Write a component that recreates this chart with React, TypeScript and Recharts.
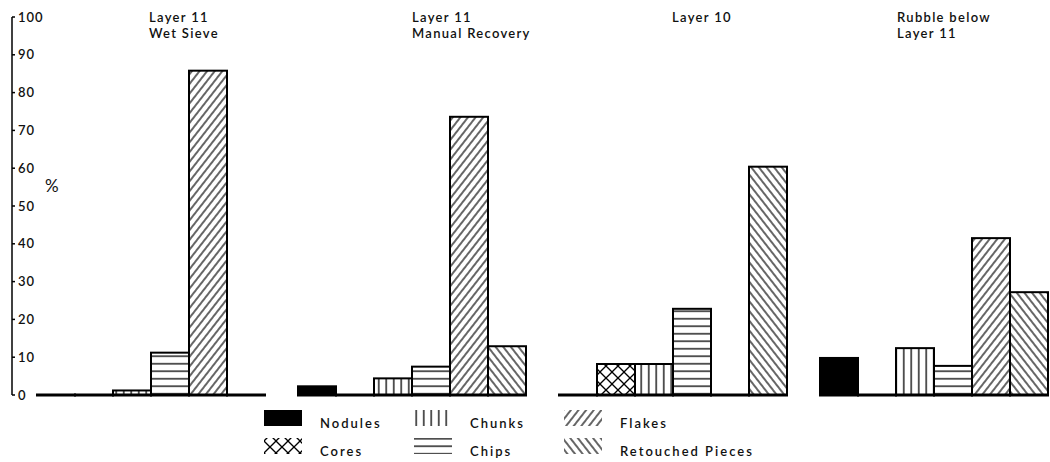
import React from "react";
import { Bar, BarChart, Legend, XAxis, YAxis } from "recharts";

const categories = [
  "Layer 11\nWet Sieve",
  "Layer 11\nManual Recovery",
  "Layer 10",
  "Rubble below\nLayer 11",
];

const nodules = [0, 2.3, 0, 9.8];
const cores = [0, 0, 8.2, 0];
const chunks = [1.2, 4.4, 8.2, 12.4];
const chips = [11.2, 7.5, 22.8, 7.7];
const flakes = [85.8, 73.6, 0, 41.5];
const retouched = [0, 12.9, 60.4, 27.2];

const yTicks = [0, 10, 20, 30, 40, 50, 60, 70, 80, 90, 100];

const series = [
  { key: "nodules", name: "Nodules", values: nodules, fill: "#000" },
  { key: "cores", name: "Cores", values: cores, fill: "url(#pat-cores)" },
  { key: "chunks", name: "Chunks", values: chunks, fill: "url(#pat-chunks)" },
  { key: "chips", name: "Chips", values: chips, fill: "url(#pat-chips)" },
  { key: "flakes", name: "Flakes", values: flakes, fill: "url(#pat-flakes)" },
  { key: "retouched", name: "Retouched Pieces", values: retouched, fill: "url(#pat-retouched)" },
];

const data = categories.map((c, i) => {
  const row: Record<string, string | number> = { group: c };
  series.forEach((s) => (row[s.key] = s.values[i]));
  return row;
});

const FONT = "Lato, 'Liberation Sans', sans-serif";
// label nudges per group (the last title sits further left in the original)
const titleShift = [-1, 1, 0, -36];

function GroupTitle(props: any) {
  const { x, payload } = props;
  const idx = payload?.index ?? props.index ?? 0;
  const lines = String(payload.value).split("\n");
  const tx = x + (titleShift[idx] ?? 0);
  return (
    <text
      x={tx}
      y={22}
      fontFamily={FONT}
      fontSize={13}
      fontWeight={600}
      letterSpacing={1.3}
      fill="#111"
      textAnchor="start"
    >
      {lines.map((l, i) => (
        <tspan key={i} x={tx} dy={i === 0 ? 0 : 16}>
          {l}
        </tspan>
      ))}
    </text>
  );
}

// bar outline plus the thick group baseline under every slot (also empty ones)
function HatchBar(props: any) {
  const { x, y, width, height, fill } = props;
  const base = y + height;
  return (
    <g>
      {height > 0 && (
        <rect x={x} y={y} width={width} height={height} fill={fill} stroke="#000" strokeWidth={2} />
      )}
      <line x1={x - 1} x2={x + width + 1} y1={base} y2={base} stroke="#000" strokeWidth={3} />
    </g>
  );
}

function LegendBox() {
  return (
    <svg width={1050} height={57}>
      {series.map((s, i) => {
        const col = Math.floor(i / 2);
        const row = i % 2;
        const sx = 264 + col * 150;
        const tx = 320 + col * 150;
        return (
          <g key={s.key}>
            <rect x={sx} y={5 + row * 28} width={38} height={16} fill={s.fill} />
            <text
              x={tx}
              y={23 + row * 28}
              fontFamily={FONT}
              fontSize={13}
              fontWeight={600}
              letterSpacing={2}
              fill="#111"
            >
              {s.name}
            </text>
          </g>
        );
      })}
    </svg>
  );
}

export default function App() {
  return (
    <div style={{ width: 1050, height: 462, background: "#fff" }}>
      <style>{`body{margin:0}`}</style>
      <BarChart
        width={1050}
        height={462}
        data={data}
        margin={{ top: 16, right: 0, bottom: 67, left: 12 }}
        barCategoryGap={17.5}
        barGap={0}
      >
        <defs>
          <pattern id="pat-chunks" patternUnits="userSpaceOnUse" width={7.5} height={10}>
            <rect width={7.5} height={10} fill="#fff" />
            <line x1={3.75} x2={3.75} y1={0} y2={10} stroke="#000" strokeWidth={1.3} />
          </pattern>
          <pattern id="pat-chips" patternUnits="userSpaceOnUse" width={10} height={7.5}>
            <rect width={10} height={7.5} fill="#fff" />
            <line x1={0} x2={10} y1={3.75} y2={3.75} stroke="#000" strokeWidth={1.3} />
          </pattern>
          <pattern
            id="pat-flakes"
            patternUnits="userSpaceOnUse"
            width={6}
            height={6}
            patternTransform="rotate(38)"
          >
            <rect width={6} height={6} fill="#fff" />
            <line x1={3} x2={3} y1={0} y2={6} stroke="#000" strokeWidth={1.2} />
          </pattern>
          <pattern
            id="pat-retouched"
            patternUnits="userSpaceOnUse"
            width={6}
            height={6}
            patternTransform="rotate(-38)"
          >
            <rect width={6} height={6} fill="#fff" />
            <line x1={3} x2={3} y1={0} y2={6} stroke="#000" strokeWidth={1.2} />
          </pattern>
          <pattern id="pat-cores" patternUnits="userSpaceOnUse" width={12} height={12}>
            <rect width={12} height={12} fill="#fff" />
            <line x1={0} y1={0} x2={12} y2={12} stroke="#000" strokeWidth={1.3} />
            <line x1={12} y1={0} x2={0} y2={12} stroke="#000" strokeWidth={1.3} />
          </pattern>
        </defs>
        <XAxis
          dataKey="group"
          orientation="top"
          height={1}
          axisLine={false}
          tickLine={false}
          interval={0}
          padding={{ left: 7.5, right: -13.5 }}
          tick={GroupTitle}
        />
        <YAxis
          domain={[0, 100]}
          ticks={yTicks}
          mirror
          width={40}
          axisLine={{ stroke: "#000", strokeWidth: 1.5 }}
          tickLine={{ stroke: "#000", strokeWidth: 1.5 }}
          tickSize={3}
          tickMargin={3}
          tick={{ fontFamily: FONT, fontSize: 13, fontWeight: 600, fill: "#111", letterSpacing: 1 }}
          label={{
            value: "%",
            position: "insideLeft",
            offset: 0,
            dx: 33,
            dy: -20,
            style: { fontFamily: FONT, fontSize: 17, fill: "#111" },
          }}
        />
        <Legend
          layout="horizontal"
          verticalAlign="middle"
          align="center"
          wrapperStyle={{ top: 405, left: 0, width: 1050, height: 57 }}
          content={<LegendBox />}
        />
        {series.map((s) => (
          <Bar
            key={s.key}
            dataKey={s.key}
            name={s.name}
            fill={s.fill}
            shape={HatchBar}
            isAnimationActive={false}
          />
        ))}
      </BarChart>
    </div>
  );
}
